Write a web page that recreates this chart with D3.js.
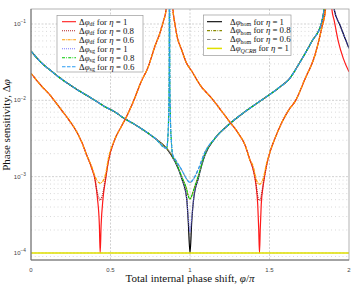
<!DOCTYPE html>
<html>
<head>
<meta charset="utf-8">
<script src="https://cdn.jsdelivr.net/npm/d3@7"></script>
<style>
  body { margin: 0; background: #fff; }
  text { font-family: "Liberation Serif", "DejaVu Serif", serif; }
  .tick-label { font-family: "Liberation Sans", Arial, sans-serif; fill: #444; }
</style>
</head>
<body>
<div id="chart"></div>
<script>
// phase shift phi/pi and sensitivity values
const dfPhi = [0, 0.067, 0.12, 0.172, 0.225, 0.277, 0.319, 0.35, 0.382, 0.403, 0.418, 0.43, 0.435, 0.441, 0.453, 0.47, 0.486, 0.528, 0.57, 0.602, 0.645, 0.692, 0.736, 0.78, 0.811, 0.833, 0.849, 0.865,
  0.881, 0.893, 0.906, 0.918, 0.948, 0.975, 1.011, 1.063, 1.137, 1.189, 1.241, 1.304, 1.346, 1.377, 1.398, 1.415, 1.426, 1.432, 1.437, 1.442, 1.448, 1.461, 1.482, 1.503, 1.535, 1.579, 1.629, 1.66, 1.723, 1.786, 1.828, 1.853, 1.868];
const dfEta1 = [0.0226, 0.0153, 0.0117, 0.00843, 0.00605, 0.00421, 0.00284, 0.00192, 0.00129, 0.0009, 0.00052, 0.00023, 0.0001, 0.00023, 0.00052, 0.00095, 0.00156, 0.00311, 0.0046, 0.0062, 0.0098, 0.0174, 0.027, 0.0515, 0.0762, 0.109, 0.152, 0.4,
  0.4, 0.152, 0.097, 0.0697, 0.0456, 0.0318, 0.0242, 0.0159, 0.0106, 0.00769, 0.00552, 0.0037, 0.0026, 0.00165, 0.00122, 0.00078, 0.00043, 0.00021, 0.0001, 0.00021, 0.00043, 0.00078, 0.00142, 0.0021, 0.0032, 0.0052, 0.0079, 0.0096, 0.019, 0.0393, 0.0879, 0.161, 0.4];
const dfEta08 = [0.0226, 0.0153, 0.0117, 0.00843, 0.00605, 0.00421, 0.00284, 0.00192, 0.00129, 0.00092, 0.0006, 0.00051, 0.00049, 0.00051, 0.00062, 0.00098, 0.00156, 0.00311, 0.0046, 0.0062, 0.0098, 0.0174, 0.027, 0.0515, 0.0762, 0.109, 0.152, 0.4,
  0.4, 0.152, 0.097, 0.0697, 0.0456, 0.0318, 0.0242, 0.0159, 0.0106, 0.00769, 0.00552, 0.0037, 0.0026, 0.00165, 0.00123, 0.00082, 0.00056, 0.0005, 0.00049, 0.0005, 0.00056, 0.00083, 0.00142, 0.0021, 0.0032, 0.0052, 0.0079, 0.0096, 0.019, 0.0393, 0.0879, 0.161, 0.4];
const dfEta06 = [0.0226, 0.0153, 0.0117, 0.00843, 0.00605, 0.00421, 0.00284, 0.00192, 0.00135, 0.001, 0.00087, 0.00083, 0.00082, 0.00083, 0.00088, 0.0011, 0.0017, 0.00311, 0.0046, 0.0062, 0.0098, 0.0174, 0.027, 0.0515, 0.0762, 0.109, 0.152, 0.4,
  0.4, 0.152, 0.097, 0.0697, 0.0456, 0.0318, 0.0242, 0.0159, 0.0106, 0.00769, 0.00552, 0.0037, 0.0026, 0.00165, 0.00135, 0.00094, 0.00083, 0.0008, 0.0008, 0.0008, 0.00083, 0.00095, 0.0015, 0.0021, 0.0032, 0.0052, 0.0079, 0.0096, 0.019, 0.0393, 0.0879, 0.161, 0.4];
const dfTailPhi = [1.884, 1.893, 1.906, 1.933, 1.964, 2.0];
const dfTailEta1 = [0.4, 0.152, 0.113, 0.0586, 0.0355, 0.0236];

const homPhi = [0, 0.067, 0.12, 0.172, 0.277, 0.382, 0.465, 0.528, 0.57, 0.675, 0.78, 0.853, 0.906, 0.948, 0.979, 0.989, 1.0, 1.011, 1.022, 1.052, 1.094, 1.157, 1.241, 1.346, 1.451, 1.555, 1.629, 1.681, 1.765, 1.828, 1.845, 1.862];
const homEta1 = [0.0442, 0.0308, 0.0249, 0.0204, 0.0144, 0.0106, 0.00826, 0.00703, 0.0061, 0.00452, 0.00318, 0.00235, 0.00157, 0.00095, 0.00052, 0.00026, 0.0001, 0.00026, 0.00049, 0.00095, 0.00192, 0.00318, 0.00475, 0.0071, 0.0101, 0.0144, 0.0196, 0.029, 0.0586, 0.105, 0.165, 0.4];
const homEta08 = [0.0442, 0.0308, 0.0249, 0.0204, 0.0144, 0.0106, 0.00826, 0.00703, 0.0061, 0.00452, 0.00318, 0.00235, 0.00162, 0.001, 0.00068, 0.00056, 0.00051, 0.00056, 0.00066, 0.00102, 0.00196, 0.00318, 0.00475, 0.0071, 0.0101, 0.0144, 0.0196, 0.029, 0.0586, 0.105, 0.165, 0.4];
const homEta06 = [0.0442, 0.0308, 0.0249, 0.0204, 0.0144, 0.0106, 0.00826, 0.00703, 0.0061, 0.00452, 0.00318, 0.00235, 0.0017, 0.00122, 0.00093, 0.00087, 0.00084, 0.00087, 0.00093, 0.00125, 0.0021, 0.00318, 0.00475, 0.0071, 0.0101, 0.0144, 0.0196, 0.029, 0.0586, 0.105, 0.165, 0.4];
const homTailPhi = [1.89, 1.908, 1.943, 1.975, 2.0];
const homTailEta1 = [0.4, 0.152, 0.097, 0.065, 0.0481];

const sgPhi = [0, 0.067, 0.12, 0.172, 0.277, 0.382, 0.465, 0.528, 0.57, 0.675, 0.78, 0.853, 0.86, 0.865, 0.869, 0.871, 0.873, 0.877, 0.882, 0.893, 0.906, 0.948, 0.979, 0.989, 1.0, 1.011, 1.022, 1.052, 1.094, 1.157, 1.241, 1.346, 1.451, 1.555, 1.629, 1.681, 1.765, 1.828, 1.845, 1.862];
const sgEta1 = [0.0442, 0.0308, 0.0249, 0.0204, 0.0144, 0.0106, 0.00826, 0.00703, 0.0061, 0.00452, 0.00318, 0.00235, 0.0031, 0.0055, 0.02, 1.0, 0.02, 0.0055, 0.0031, 0.00175, 0.00157, 0.00095, 0.00052, 0.00029, 0.00019, 0.00029, 0.0005, 0.00095, 0.00192, 0.00318, 0.00475, 0.0071, 0.0101, 0.0144, 0.0196, 0.029, 0.0586, 0.105, 0.165, 0.4];
const sgEta08 = [0.0442, 0.0308, 0.0249, 0.0204, 0.0144, 0.0106, 0.00826, 0.00703, 0.0061, 0.00452, 0.00318, 0.00235, 0.0031, 0.0055, 0.02, 1.0, 0.02, 0.0055, 0.0031, 0.0018, 0.00162, 0.001, 0.00068, 0.00056, 0.00051, 0.00056, 0.00066, 0.00102, 0.00196, 0.00318, 0.00475, 0.0071, 0.0101, 0.0144, 0.0196, 0.029, 0.0586, 0.105, 0.165, 0.4];
const sgEta06 = [0.0442, 0.0308, 0.0249, 0.0204, 0.0144, 0.0106, 0.00826, 0.00703, 0.0061, 0.00452, 0.00318, 0.00235, 0.0031, 0.0055, 0.02, 1.0, 0.02, 0.0055, 0.0031, 0.0019, 0.0017, 0.00122, 0.00093, 0.00087, 0.00084, 0.00087, 0.00093, 0.00125, 0.0021, 0.00318, 0.00475, 0.0071, 0.0101, 0.0144, 0.0196, 0.029, 0.0586, 0.105, 0.165, 0.4];
const sgTailPhi = [1.89, 1.908, 1.943, 1.975, 2.0];
const sgTailEta1 = [0.4, 0.152, 0.097, 0.065, 0.0481];

const qcrbPhi = [0, 2];
const qcrbEta1 = [1e-4, 1e-4];

const xTicks = [0, 0.5, 1, 1.5, 2];
const xTickLabels = ["0", "0.5", "1", "1.5", "2"];
const yTicks = [1e-1, 1e-2, 1e-3, 1e-4];
const yTickExps = ["\u22121", "\u22122", "\u22123", "\u22124"];

const width = 362, height = 289;
const mLeft = 31, mRight = 349, mTop = 9, mBottom = 260;

const svg = d3.select("#chart").append("svg")
  .attr("width", width)
  .attr("height", height);

const x = d3.scaleLinear().domain([0, 2]).range([mLeft, mRight]);
const y = d3.scaleLog().domain([Math.pow(10, -4.092), Math.pow(10, -0.8035)]).range([mBottom, mTop]);

svg.append("clipPath").attr("id", "plot-clip")
  .append("rect")
  .attr("x", mLeft).attr("y", mTop)
  .attr("width", mRight - mLeft).attr("height", mBottom - mTop);

// minor grid (horizontal, dotted)
const minorY = [];
for (let e = -5; e <= -1; e++) {
  for (let m = 2; m <= 9; m++) {
    const v = m * Math.pow(10, e);
    if (v > y.domain()[0] && v < y.domain()[1]) minorY.push(v);
  }
}
svg.append("g").selectAll("line").data(minorY).enter().append("line")
  .attr("x1", mLeft).attr("x2", mRight)
  .attr("y1", d => y(d)).attr("y2", d => y(d))
  .attr("stroke", "#b0b0b0").attr("stroke-width", 0.6)
  .attr("stroke-dasharray", "0.8,3");

// major grid
svg.append("g").selectAll("line").data(yTicks).enter().append("line")
  .attr("x1", mLeft).attr("x2", mRight)
  .attr("y1", d => y(d)).attr("y2", d => y(d))
  .attr("stroke", "#bdbdbd").attr("stroke-width", 0.7)
  .attr("stroke-dasharray", "2,1.5");
svg.append("g").selectAll("line").data(xTicks.slice(1, -1)).enter().append("line")
  .attr("x1", d => x(d)).attr("x2", d => x(d))
  .attr("y1", mTop).attr("y2", mBottom)
  .attr("stroke", "#bdbdbd").attr("stroke-width", 0.7)
  .attr("stroke-dasharray", "2,1.5");

const line = d3.line()
  .x(d => x(d[0]))
  .y(d => y(d[1]))
  .curve(d3.curveMonotoneX);

const series = [
  { phi: homPhi, val: homEta1, color: "#000000", dash: null, w: 1.2 },
  { phi: homTailPhi, val: homTailEta1, color: "#000000", dash: null, w: 1.2 },
  { phi: homPhi, val: homEta08, color: "#8a8a00", dash: "3,1.2,0.8,1.2", w: 1.1 },
  { phi: homPhi, val: homEta06, color: "#8c8c8c", dash: "3.5,2", w: 1.1 },
  { phi: sgPhi, val: sgEta1, color: "#7b7bff", dash: "1,1", w: 1.2 },
  { phi: sgTailPhi, val: sgTailEta1, color: "#4a4ae0", dash: "1,1", w: 1.2 },
  { phi: sgPhi, val: sgEta08, color: "#00c800", dash: "3,1.2,0.8,1.2", w: 1.1 },
  { phi: sgPhi, val: sgEta06, color: "#2a9df4", dash: "3.5,1.5", w: 1.2 },
  { phi: dfPhi, val: dfEta1, color: "#ff1a1a", dash: null, w: 1.2 },
  { phi: dfTailPhi, val: dfTailEta1, color: "#ff1a1a", dash: null, w: 1.2 },
  { phi: dfPhi, val: dfEta08, color: "#b22222", dash: "1,1", w: 1.2 },
  { phi: dfPhi, val: dfEta06, color: "#ff9a00", dash: "3,0.8,1,0.8", w: 1.3 },
  { phi: qcrbPhi, val: qcrbEta1, color: "#e0e000", dash: null, w: 1.6 }
];

const plot = svg.append("g").attr("clip-path", "url(#plot-clip)");
series.forEach(s => {
  plot.append("path")
    .datum(s.phi.map((p, i) => [p, s.val[i]]))
    .attr("d", line)
    .attr("fill", "none")
    .attr("stroke", s.color)
    .attr("stroke-width", s.w)
    .attr("stroke-dasharray", s.dash);
});

// axes box
svg.append("rect")
  .attr("x", mLeft).attr("y", mTop)
  .attr("width", mRight - mLeft).attr("height", mBottom - mTop)
  .attr("fill", "none").attr("stroke", "#a0a0a0").attr("stroke-width", 0.8);
svg.append("line").attr("x1", mLeft).attr("x2", mLeft).attr("y1", mTop).attr("y2", mBottom)
  .attr("stroke", "#6e6e6e").attr("stroke-width", 1);
svg.append("line").attr("x1", mLeft).attr("x2", mRight).attr("y1", mBottom).attr("y2", mBottom)
  .attr("stroke", "#6e6e6e").attr("stroke-width", 1);

// tick labels
svg.append("g").selectAll("text").data(xTicks).enter().append("text")
  .attr("class", "tick-label")
  .attr("x", d => x(d)).attr("y", 272)
  .attr("text-anchor", "middle")
  .attr("font-size", 6)
  .text((d, i) => xTickLabels[i]);

const yt = svg.append("g").selectAll("text").data(yTicks).enter().append("text")
  .attr("class", "tick-label")
  .attr("x", 26).attr("y", d => y(d) + 2)
  .attr("text-anchor", "end")
  .attr("font-size", 6);
yt.append("tspan").text("10");
yt.append("tspan").attr("dy", -2.5).attr("font-size", 4.8).text((d, i) => yTickExps[i]);

// axis titles
svg.append("text")
  .attr("x", 190).attr("y", 281.5)
  .attr("text-anchor", "middle")
  .attr("font-size", 11)
  .attr("fill", "#111")
  .call(t => {
    t.append("tspan").text("Total internal phase shift, ");
    t.append("tspan").attr("font-style", "italic").text("φ");
    t.append("tspan").text("/");
    t.append("tspan").attr("font-style", "italic").text("π");
  });

svg.append("text")
  .attr("transform", "translate(10,125) rotate(-90)")
  .attr("text-anchor", "middle")
  .attr("font-size", 11)
  .attr("fill", "#111")
  .call(t => {
    t.append("tspan").text("Phase sensitivity, Δ");
    t.append("tspan").attr("font-style", "italic").text("φ");
  });

// legends
function legendLabel(g, tx, ty, sub, subItalic, eta) {
  const t = g.append("text").attr("x", tx).attr("y", ty).attr("font-size", 8.8).attr("fill", "#111");
  t.append("tspan").text("Δ");
  t.append("tspan").attr("font-style", "italic").text("φ");
  t.append("tspan").attr("dy", 1.6).attr("font-size", 6)
    .attr("font-style", subItalic ? "italic" : null).text(sub);
  t.append("tspan").attr("dy", -1.6).text(" for ");
  t.append("tspan").attr("font-style", "italic").text("η");
  t.append("tspan").text(" = " + eta);
}

const legend1 = [
  { sub: "df", eta: "1", color: "#ff1a1a", dash: null },
  { sub: "df", eta: "0.8", color: "#b22222", dash: "1,1" },
  { sub: "df", eta: "0.6", color: "#ff9a00", dash: "3,0.8,1,0.8" },
  { sub: "sg", eta: "1", color: "#7b7bff", dash: "1,1" },
  { sub: "sg", eta: "0.8", color: "#00c800", dash: "3,1.2,0.8,1.2" },
  { sub: "sg", eta: "0.6", color: "#2a9df4", dash: "3.5,1.5" }
];
const legend2 = [
  { sub: "hom", eta: "1", color: "#000000", dash: null, it: false },
  { sub: "hom", eta: "0.8", color: "#8a8a00", dash: "3,1.2,0.8,1.2", it: false },
  { sub: "hom", eta: "0.6", color: "#8c8c8c", dash: "3.5,2", it: false },
  { sub: "QCRB", eta: "1", color: "#e0e000", dash: null, it: true }
];

function drawLegend(items, bx, by, bw, bh, x1, x2, tx, row0, step) {
  const g = svg.append("g");
  g.append("rect").attr("x", bx).attr("y", by).attr("width", bw).attr("height", bh)
    .attr("fill", "#fff").attr("stroke", "#9a9a9a").attr("stroke-width", 0.7);
  items.forEach((d, i) => {
    const cy = row0 + i * step;
    g.append("line").attr("x1", x1).attr("x2", x2).attr("y1", cy).attr("y2", cy)
      .attr("stroke", d.color).attr("stroke-width", d.sub === "QCRB" ? 1.5 : 1.1)
      .attr("stroke-dasharray", d.dash);
    legendLabel(g, tx, cy + 2.8, d.sub, d.it, d.eta);
  });
}

drawLegend(legend1, 57, 15.5, 86, 56.5, 62, 76, 79, 21.7, 9);
drawLegend(legend2, 203.5, 15, 87.5, 40.5, 207, 222, 230, 21.7, 8.9);
</script>
</body>
</html>
